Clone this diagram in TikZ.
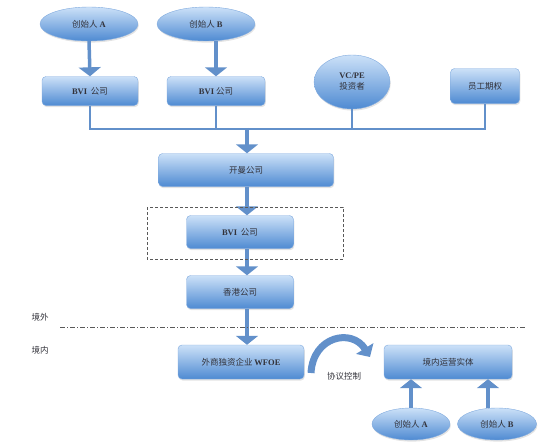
\documentclass[tikz,border=0pt]{standalone}
\usepackage{fontspec}
\setmainfont{Liberation Serif}
\newfontfamily\cjk{Noto Sans CJK SC}
\usetikzlibrary{arrows.meta}
\usetikzlibrary{shapes.geometric}
\usetikzlibrary{shadows}
\definecolor{linkblue}{RGB}{98,144,202}
\definecolor{boxtop}{RGB}{204,225,248}
\definecolor{boxbottom}{RGB}{78,138,210}
\definecolor{boxedge}{RGB}{128,170,222}
\definecolor{labelgray}{RGB}{50,50,58}
\newcommand\lat[1]{{\rmfamily\bfseries #1}}

\begin{document}
\begin{tikzpicture}[x=1pt,y=-1pt,
  block/.style={rectangle,rounded corners=4pt,top color=boxtop,bottom color=boxbottom,
    draw=boxedge,line width=0.4pt,text=labelgray,inner sep=0pt,
    font=\cjk\fontsize{8.5}{10}\selectfont,
    drop shadow={opacity=0.22,shadow xshift=0.8pt,shadow yshift=-1.6pt}},
  person/.style={ellipse,top color=boxtop,bottom color=boxbottom,
    draw=boxedge,line width=0.4pt,text=labelgray,inner sep=0pt,
    font=\cjk\fontsize{8.5}{10}\selectfont,
    drop shadow={opacity=0.22,shadow xshift=0.8pt,shadow yshift=-1.6pt}},
  flow/.style={draw=linkblue,line width=3.5pt,-{Triangle[width=22pt,length=9pt]}},
  bus/.style={draw=linkblue,line width=2.5pt},
  zone/.style={text=labelgray,font=\cjk\fontsize{8.5}{10}\selectfont}]
\useasboundingbox (0,0) rectangle (555,447);

% offshore holding chain
\node at ( 89, 24) (fndA) [person,minimum width=98pt,minimum height=34pt] {创始人 \lat{A}};
\node at (206, 24) (fndB) [person,minimum width=98pt,minimum height=34pt] {创始人 \lat{B}};
\node at ( 90, 91) (bviA) [block,minimum width=96pt,minimum height=29pt] {\lat{BVI}\ \ 公司};
\node at (216, 91) (bviB) [block,minimum width=98pt,minimum height=29pt] {\lat{BVI} 公司};
\node at (352, 82) (vcpe) [person,minimum width=76pt,minimum height=54pt,align=center]
  {\lat{VC/PE}\\[1pt]投资者};
\node at (485, 86) (esop) [block,minimum width=69pt,minimum height=35pt] {员工期权};
\node at (246,170) (cayman) [block,minimum width=175pt,minimum height=33pt] {开曼公司};
\node at (240,232) (bviC) [block,minimum width=107pt,minimum height=33pt] {\lat{BVI}\ \ 公司};
\node at (240,292) (hk) [block,minimum width=107pt,minimum height=33pt] {香港公司};

% onshore
\node at (241,362) (wfoe) [block,minimum width=126pt,minimum height=34pt] {外商独资企业 \lat{WFOE}};
\node at (448,362) (opco) [block,minimum width=128pt,minimum height=34pt] {境内运营实体};
\node at (411,424) (fndC) [person,minimum width=78pt,minimum height=32pt] {创始人 \lat{A}};
\node at (497,424) (fndD) [person,minimum width=79pt,minimum height=32pt] {创始人 \lat{B}};

\node at (40,317) (offshore) [zone] {境外};
\node at (40,350) (onshore) [zone] {境内};
\node at (344,376) (vie) [zone] {协议控制};

\coordinate (busL) at (90,129);
\coordinate (busR) at (485,129);
\coordinate (busM) at (247,129);

\draw [flow] (fndA.south) -- (bviA.north);
\draw [flow] (fndB.south -| bviB.north) -- (bviB.north);
\draw [bus] (bviA.south) -- (busL) -- (busR) -- (esop.south);
\draw [bus] (bviB.south) -- (bviB.south |- busL);
\draw [bus] (vcpe.south) -- (vcpe.south |- busL);
\draw [flow] ([yshift=1.25pt]busM) -- (busM |- cayman.north);
\draw [flow] (busM |- cayman.south) -- (busM |- bviC.north);
\draw [flow] (busM |- bviC.south) -- (busM |- hk.north);
\draw [flow] (busM |- hk.south) -- (busM |- wfoe.north);
\draw [flow] (fndC.north) -- (fndC.north |- opco.south);
\draw [flow] ([xshift=-9pt]fndD.north) -- ([xshift=-9pt]fndD.north |- opco.south);

% boundary and dashed group
\draw [dash pattern=on 3pt off 2pt,draw=gray!70!black,line width=0.6pt] (147,207) rectangle (343,259);
\draw [dash pattern=on 5pt off 2pt on 1pt off 2pt,draw=gray!70!black,line width=0.6pt] (60,327) -- (525,327);

% contractual control
\coordinate (curlA) at (311,373);
\coordinate (curlB) at (370,357);
\draw [draw=linkblue,line width=7pt,-{Triangle[width=20pt,length=10pt]}]
  (curlA) .. controls (313,336) and (352,328) .. (curlB);
\end{tikzpicture}
\end{document}
